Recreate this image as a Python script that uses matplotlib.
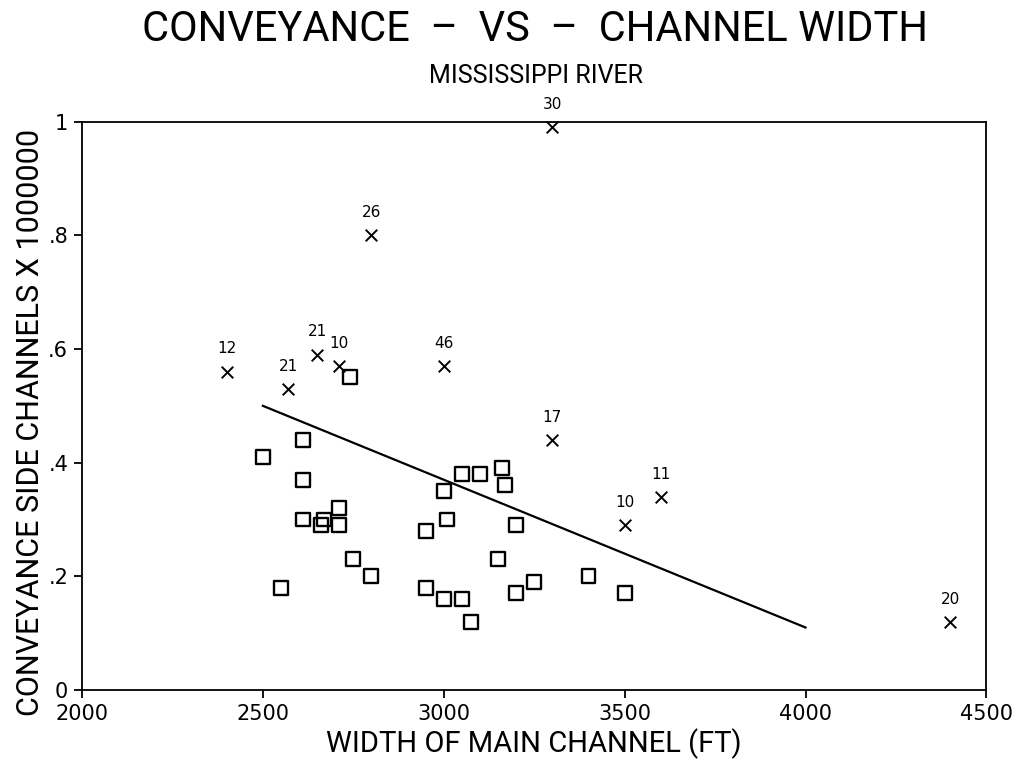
import matplotlib
matplotlib.use("Agg")
import matplotlib.pyplot as plt

plt.rcParams['font.family'] = ['Roboto', 'DejaVu Sans']

# Data
square_x = [2500, 2550, 2610, 2610, 2610, 2660, 2670, 2710, 2710, 2740, 2750, 2800,
            2950, 2950, 3000, 3010, 3000, 3050, 3100, 3050, 3075, 3160, 3170, 3200,
            3150, 3200, 3250, 3400, 3500]
square_y = [0.41, 0.18, 0.44, 0.37, 0.30, 0.29, 0.30, 0.32, 0.29, 0.55, 0.23, 0.20,
            0.28, 0.18, 0.35, 0.30, 0.16, 0.38, 0.38, 0.16, 0.12, 0.39, 0.36, 0.29,
            0.23, 0.17, 0.19, 0.20, 0.17]
cross_x = [2400, 2570, 2650, 2710, 2800, 3000, 3300, 3300, 3500, 3600, 4400]
cross_y = [0.56, 0.53, 0.59, 0.57, 0.80, 0.57, 0.99, 0.44, 0.29, 0.34, 0.12]
cross_labels = ['12', '21', '21', '10', '26', '46', '30', '17', '10', '11', '20']
line_x = [2500, 4000]
line_y = [0.50, 0.11]
x_ticks = [2000, 2500, 3000, 3500, 4000, 4500]
x_tick_labels = ['2000', '2500', '3000', '3500', '4000', '4500']
y_ticks = [0, 0.2, 0.4, 0.6, 0.8, 1.0]
y_tick_labels = ['0', '.2', '.4', '.6', '.8', '1']

fig = plt.figure(figsize=(10.19, 7.74), dpi=100)
ax = fig.add_axes([0.0805, 0.1085, 0.8875, 0.7343])

ax.plot(line_x, line_y, color='black', lw=1.6)
ax.scatter(square_x, square_y, marker='s', s=100, facecolors='none',
           edgecolors='black', linewidths=1.7, zorder=3)
ax.scatter(cross_x, cross_y, marker='x', s=70, color='black', linewidths=1.4,
           zorder=3, clip_on=False)
for x, y, lab in zip(cross_x, cross_y, cross_labels):
    ax.annotate(lab, (x, y), xytext=(0, 11), textcoords='offset points',
                ha='center', va='bottom', fontsize=11, family='DejaVu Sans',
                annotation_clip=False)

ax.set_xlim(2000, 4500)
ax.set_ylim(0, 1)
ax.set_xticks(x_ticks)
ax.set_xticklabels(x_tick_labels, family='DejaVu Sans', fontsize=15)
ax.set_yticks(y_ticks)
ax.set_yticklabels(y_tick_labels, family='DejaVu Sans', fontsize=15)
ax.tick_params(direction='out', length=6, width=1.3, pad=4)
for s in ax.spines.values():
    s.set_linewidth(1.3)

ax.set_xlabel('WIDTH OF MAIN CHANNEL (FT)', fontsize=21)
ax.xaxis.set_label_coords(0.5, -0.068)
ax.set_ylabel('CONVEYANCE SIDE CHANNELS X 1000000', fontsize=22)
ax.yaxis.set_label_coords(-0.041, 0.47)

fig.text(0.525, 0.947, 'CONVEYANCE  –  VS  –  CHANNEL WIDTH', ha='center',
         va='baseline', fontsize=30)
fig.text(0.526, 0.893, 'MISSISSIPPI RIVER', ha='center', va='baseline',
         fontsize=18)

fig.savefig('out.png', dpi=100)
